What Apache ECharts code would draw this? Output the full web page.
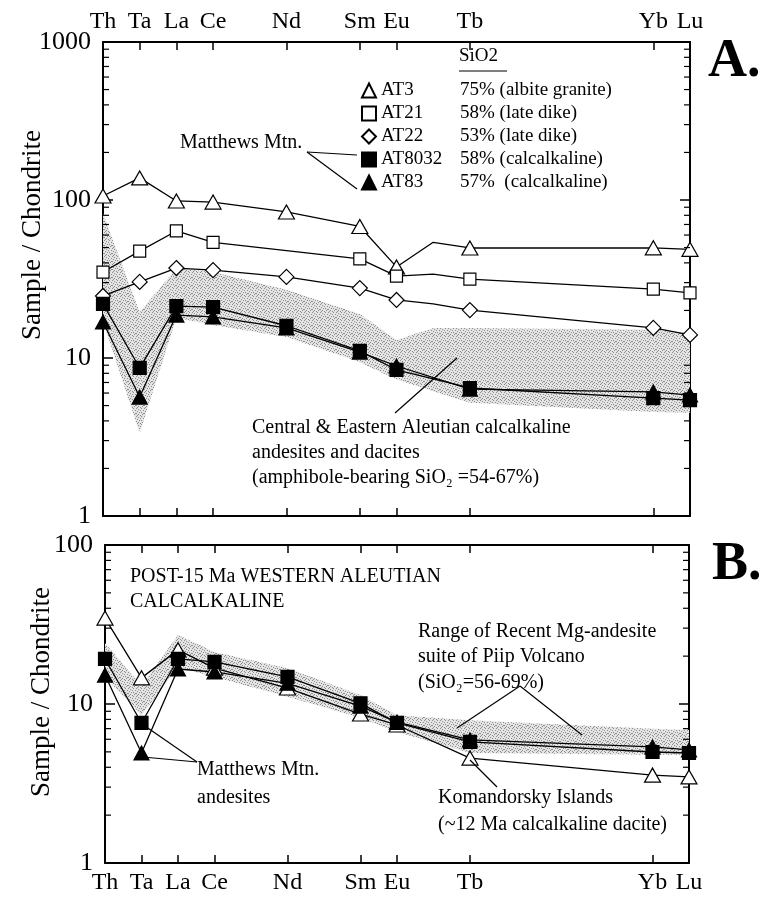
<!DOCTYPE html>
<html>
<head>
<meta charset="utf-8">
<script src="https://cdn.jsdelivr.net/npm/echarts@6/dist/echarts.min.js"></script>
<style>html,body{margin:0;padding:0;background:#fff}#c{width:759px;height:897px}</style>
</head>
<body>
<div id="c"></div>
<script>
// Element order (x categories); only some are labelled
const elements = ['Th','Ta','La','Ce','Pr','Nd','Pm','Sm','Eu','Gd','Tb','Dy','Ho','Er','Tm','Yb','Lu'];
const labeled = ['Th','Ta','La','Ce','Nd','Sm','Eu','Tb','Yb','Lu'];

// Panel A (chondrite-normalised)
const AT3    = [106, 138, 98.6, 97,  null, 84,   null, 68,   37.7, 54,   49.7, null,null,null,null, 49.8, 48.7];
const AT21   = [35,  47.5, 63.7, 54,  null, null, null, 42.4, 33,   34,   31.6, null,null,null,null, 27.3, 25.8];
const AT22   = [24.7,30.3, 37.1, 36,  null, 32.6, null, 27.7, 23.3, 22,   20.1, null,null,null,null, 15.5, 14];
const AT8032 = [22,  8.65, 21.3, 21,  null, 16,   null, 11.1, 8.4,  null, 6.46, null,null,null,null, 5.58, 5.42];
const AT83   = [16.9,5.66, 18.7, 18.2,null, 15.5, null, 10.9, 8.9,  null, 6.36, null,null,null,null, 6.1,  5.83];
const bandA_upper = [82, 19.5, 37, 35, null, 27, null, 19, 13, 15.5, 15.5, null,null,null,null, 15.1, 14.4];
const bandA_lower = [17, 3.35, 18, 16.2,null, 13.6,null, 9.4, 7.3, null, 5.2, null,null,null,null, 4.55, 4.5];

// Panel B
const komandorsky = [34.7, 14.6, 21.9, 16.8, null, 12.6, null, 8.65, 7.38, null, 4.57, null,null,null,null, 3.57, 3.48];
const matthewsSq  = [19.2, 7.6,  19.2, 18.4, null, 14.8, null, 10.1, 7.6,  null, 5.77, null,null,null,null, 4.99, 4.92];
const matthewsTri = [15.2, 4.92, 16.6, 15.9, null, 13.5, null, 9.7,  7.7,  null, 5.94, null,null,null,null, 5.37, 5.14];
const bandB_upper = [24.2, 13,   27.2, 21.2, null, 16.8, null, 11.4, 8.5,  null, 7.9,  null,null,null,null, 7.0, 6.87];
const bandB_lower = [14.8, 8.5,  17.1, 14.8, null, 11.1, null, 8.18, 6.67, null, 4.92, null,null,null,null, 4.8, 4.8];

// legend descriptions
const legendNames = ['AT3','AT21','AT22','AT8032','AT83'];
const legendDesc = ['75% (albite granite)','58% (late dike)','53% (late dike)','58% (calcalkaline)','57%  (calcalkaline)'];

const FONT = '"Liberation Serif","Times New Roman",serif';

const chart = echarts.init(document.getElementById('c'), null, {renderer:'canvas'});

// stipple texture tile (irregular dots to avoid visible hatching)
const stippleDots = [[0,0],[2,1],[5,0],[1,3],[4,2],[3,4],[0,5],[5,4],[2,6],[6,6],[7,2],[7,5],[4,7],[1,7]];
function makePattern(){
  const c = document.createElement('canvas'); c.width = 8; c.height = 8;
  const ctx = c.getContext('2d');
  ctx.fillStyle = '#e4e4e4'; ctx.fillRect(0,0,8,8);
  ctx.fillStyle = '#8c8c8c';
  stippleDots.forEach(p=>ctx.fillRect(p[0],p[1],1,1));
  return {image: c, repeat: 'repeat'};
}
const stipple = makePattern();

function xAx(grid, pos, showLabel){
  return {type:'category', gridIndex:grid, position:pos, data:elements, boundaryGap:false,
    axisLine:{show:true, onZero:false, lineStyle:{color:'#000', width:2}},
    axisTick:{show:true, inside:true, length:8, interval:(i,v)=>labeled.indexOf(v)>=0, lineStyle:{color:'#000', width:1.5}},
    axisLabel:{show:showLabel, interval:0, formatter:v=>labeled.indexOf(v)>=0?v:'', color:'#000', fontFamily:FONT, fontSize:24, margin:8},
    splitLine:{show:false}};
}
function yAx(grid, pos, max, showLabel){
  return {type:'log', logBase:10, gridIndex:grid, position:pos, min:1, max:max,
    axisLine:{show:true, onZero:false, lineStyle:{color:'#000', width:2}},
    axisTick:{show:true, inside:true, length:10, lineStyle:{color:'#000', width:1.5}},
    axisLabel:{show:showLabel, formatter:v=>String(v), color:'#000', fontFamily:FONT, fontSize:26, margin:12},
    splitLine:{show:false}, minorTick:{show:false}};
}

function lineSeries(name, values, xi, yi, symbol, size, filled){
  return {name:name, type:'line', xAxisIndex:xi, yAxisIndex:yi, connectNulls:true, z:5,
    symbol:symbol, symbolSize:size, showAllSymbol:true,
    lineStyle:{color:'#000', width:1.3},
    itemStyle:{color: filled?'#000':'#fff', borderColor:'#000', borderWidth:1.2},
    emphasis:{disabled:true},
    data: values.map((v,i)=> (v!=null && labeled.indexOf(elements[i])<0) ? {value:v, symbol:'none'} : v)};
}

function bandSeries(lower, upper, xi, yi){
  const pts = [];
  elements.forEach((e,i)=>{ if(upper[i]!=null && lower[i]!=null) pts.push([i, lower[i], upper[i]]); });
  return {type:'custom', xAxisIndex:xi, yAxisIndex:yi, z:1, silent:true,
    encode:{x:0, y:[1,2]}, data: pts,
    renderItem:function(params, api){
      if(params.dataIndex!==0) return null;
      const poly = [];
      elements.forEach((e,i)=>{ if(upper[i]!=null) poly.push(api.coord([i, upper[i]])); });
      for(let i=elements.length-1;i>=0;i--){ if(lower[i]!=null) poly.push(api.coord([i, lower[i]])); }
      return {type:'polygon', shape:{points:poly}, style:{fill:stipple, stroke:null}};
    }};
}

function minorTickSeries(decades, xi, yi){
  const vals = [];
  decades.forEach(d=>{ [2,3,4,5,6,7,8,9].forEach(m=>vals.push([0, m*d])); });
  return {type:'custom', xAxisIndex:xi, yAxisIndex:yi, z:6, silent:true, data: vals, encode:{x:0,y:1},
    renderItem:function(params, api){
      const v = api.value(1);
      const pL = api.coord([0, v]); const pR = api.coord([elements.length-1, v]);
      return {type:'group', children:[
        {type:'line', shape:{x1:pL[0], y1:pL[1], x2:pL[0]+6, y2:pL[1]}, style:{stroke:'#000', lineWidth:1.2}},
        {type:'line', shape:{x1:pR[0], y1:pR[1], x2:pR[0]-6, y2:pR[1]}, style:{stroke:'#000', lineWidth:1.2}}
      ]};
    }};
}

function txt(x, y, s, size, extra){
  return Object.assign({type:'text', x:x, y:y, z:20, style:{text:s, fill:'#000', font: (size||20)+'px '+FONT, textAlign:'left', textVerticalAlign:'middle'}}, extra||{});
}
function ln(x1,y1,x2,y2){
  return {type:'line', z:20, shape:{x1:x1,y1:y1,x2:x2,y2:y2}, style:{stroke:'#000', lineWidth:1.2}};
}

const legendMap = {}; legendNames.forEach((n,i)=>legendMap[n]=legendDesc[i]);

const option = {
  backgroundColor:'#fff',
  animation:false,
  grid:[{left:103, top:42, width:587, height:474}, {left:105, top:545, width:584, height:318}],
  xAxis:[xAx(0,'top',true), xAx(0,'bottom',false), xAx(1,'top',false), xAx(1,'bottom',true)],
  yAxis:[yAx(0,'left',1000,true), yAx(0,'right',1000,false), yAx(1,'left',100,true), yAx(1,'right',100,false)],
  legend:{orient:'vertical', left:356, top:76, itemWidth:14, itemHeight:14, itemGap:4, selectedMode:false,
    data:[{name:'AT3',icon:'triangle'},{name:'AT21',icon:'rect'},{name:'AT22',icon:'diamond'},{name:'AT8032',icon:'rect'},{name:'AT83',icon:'triangle'}],
    formatter:n=>'{n|'+n+'}{d|'+legendMap[n]+'}',
    textStyle:{color:'#000', fontFamily:FONT, fontSize:19, rich:{n:{width:79, fontSize:19, fontFamily:FONT, lineHeight:20}, d:{fontSize:19, fontFamily:FONT, lineHeight:20}}}},
  series:[
    bandSeries(bandA_lower, bandA_upper, 0, 0),
    minorTickSeries([1,10,100], 0, 0),
    lineSeries('AT3', AT3, 0, 0, 'triangle', [16,14], false),
    lineSeries('AT21', AT21, 0, 0, 'rect', 12, false),
    lineSeries('AT22', AT22, 0, 0, 'diamond', [15,15], false),
    lineSeries('AT8032', AT8032, 0, 0, 'rect', 13, true),
    lineSeries('AT83', AT83, 0, 0, 'triangle', [15,14], true),
    bandSeries(bandB_lower, bandB_upper, 3, 2),
    minorTickSeries([1,10], 3, 2),
    lineSeries('Komandorsky Islands', komandorsky, 3, 2, 'triangle', [16,14], false),
    lineSeries('Matthews Mtn. (square)', matthewsSq, 3, 2, 'rect', 13, true),
    lineSeries('Matthews Mtn. (triangle)', matthewsTri, 3, 2, 'triangle', [15,14], true)
  ],
  graphic:[
    // y-axis names
    {type:'text', x:33, y:235, rotation:Math.PI/2, z:20, style:{text:'Sample / Chondrite', fill:'#000', font:'27px '+FONT, textAlign:'center', textVerticalAlign:'middle'}},
    {type:'text', x:42, y:692, rotation:Math.PI/2, z:20, style:{text:'Sample / Chondrite', fill:'#000', font:'27px '+FONT, textAlign:'center', textVerticalAlign:'middle'}},
    // panel letters
    {type:'text', x:708, y:62, z:20, style:{text:'A.', fill:'#000', font:'bold 54px '+FONT, textAlign:'left', textVerticalAlign:'middle'}},
    {type:'text', x:712, y:565, z:20, style:{text:'B.', fill:'#000', font:'bold 54px '+FONT, textAlign:'left', textVerticalAlign:'middle'}},
    // legend header
    txt(459, 56, 'SiO2', 19),
    ln(459, 71, 507, 71),
    // Panel A annotations
    txt(180, 143, 'Matthews Mtn.', 20),
    ln(307,152,357,155), ln(307,152,357,189),
    txt(252, 428, 'Central & Eastern Aleutian calcalkaline', 20),
    txt(252, 453, 'andesites and dacites', 20),
    txt(252, 478, '(amphibole-bearing SiO\u2082 =54-67%)', 20),
    ln(395,413,457,358),
    // Panel B annotations
    txt(130, 577, 'POST-15 Ma WESTERN ALEUTIAN', 20),
    txt(130, 602, 'CALCALKALINE', 20),
    txt(418, 632, 'Range of Recent Mg-andesite', 20),
    txt(418, 657, 'suite of Piip Volcano', 20),
    txt(418, 683, '(SiO\u2082=56-69%)', 20),
    ln(520,686,457,728), ln(520,686,582,735),
    txt(197, 770, 'Matthews Mtn.', 20),
    txt(197, 798, 'andesites', 20),
    ln(197,762,142,724), ln(197,762,143,757),
    txt(438, 798, 'Komandorsky Islands', 20),
    txt(438, 825, '(~12 Ma calcalkaline dacite)', 20),
    ln(470,760,497,787)
  ]
};
chart.setOption(option);
</script>
</body>
</html>
